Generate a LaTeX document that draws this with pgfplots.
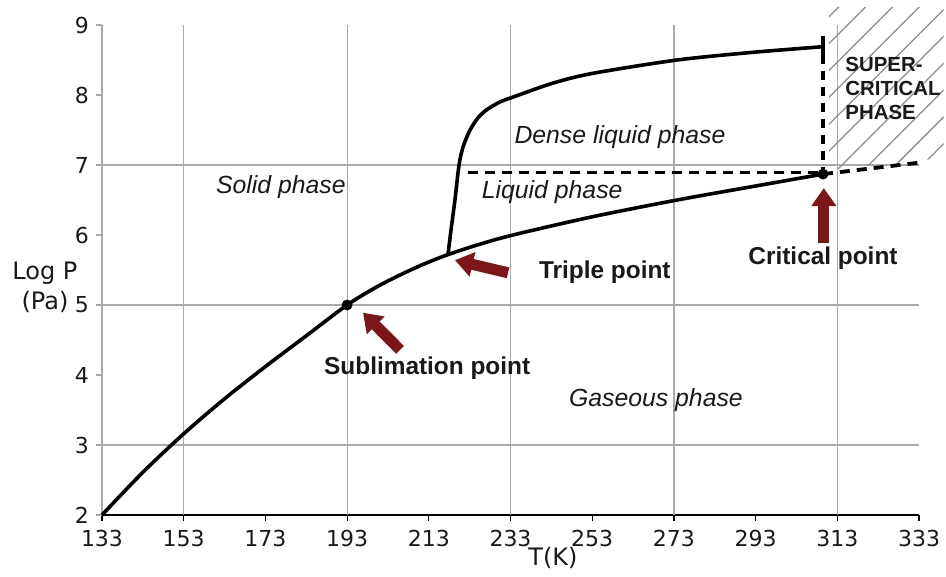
\documentclass[border=0pt]{standalone}
\usepackage{fontspec}
\setmainfont{DejaVu Sans}
\newfontfamily\arial{Liberation Sans}
\usepackage{pgfplots}
\pgfplotsset{compat=1.18}
\usetikzlibrary{arrows.meta,patterns.meta}
\definecolor{arrowred}{RGB}{125,22,25}
\definecolor{gridgray}{RGB}{170,170,170}
\definecolor{hatchgray}{RGB}{140,140,140}
\definecolor{txt}{RGB}{25,25,25}

\begin{document}
\begin{tikzpicture}
\begin{axis}[
    name=ax,
    scale only axis,
    width=408.5pt, height=245pt,
    xmin=133, xmax=333, ymin=2, ymax=9,
    axis x line*=bottom, axis y line*=left,
    x axis line style={black, line width=1.4pt},
    y axis line style={gridgray, line width=1pt},
    xtick={133,153,...,333}, ytick={2,...,9},
    extra x ticks={153,193,233,273,313}, extra x tick labels={},
    extra y ticks={3,5,7}, extra y tick labels={},
    extra tick style={grid=major},
    major grid style={gridgray, line width=0.6pt},
    tick align=outside, major tick length=3pt,
    x tick style={black, line width=0.6pt},
    y tick style={gridgray, line width=0.8pt},
    tick label style={font=\fontsize{11}{13}\selectfont, text=txt},
    xticklabel style={yshift=-1pt},
    /pgf/number format/assume math mode=true,
    clip=false,
]
    % supercritical region
    \addplot[draw=none, pattern={Lines[angle=45,distance=9.5pt,line width=0.65pt]}, pattern color=hatchgray]
        coordinates {(311,6.93) (339,7.1) (339,9.26) (311,9.26)} -- cycle;

    % sublimation + vaporization curve
    \addplot[black, line width=1.8pt, smooth] coordinates {
        (133,2) (143,2.61) (153,3.16) (163,3.66) (173,4.12) (183,4.56) (193,5.0)
        (200,5.25) (206,5.43) (212,5.59) (217.7,5.72) (225,5.86) (233.6,6.0)
        (253,6.26) (273.8,6.5) (293,6.7) (309.5,6.87)
    };
    % melting curve
    \addplot[black, line width=1.8pt, smooth] coordinates {
        (217.7,5.72) (218.5,6.1) (219.4,6.5) (220.4,7.0) (221.4,7.26) (223.1,7.5)
        (225,7.67) (227.2,7.79) (230.4,7.9) (233.6,7.97) (243.4,8.17) (253.2,8.31)
        (273.8,8.5) (292.4,8.61) (309.5,8.69)
    };
    \addplot[black, line width=1.6pt] coordinates {(309.5,8.57) (309.5,8.84)};

    % dashed boundaries
    \addplot[black, line width=1.4pt, dash pattern=on 5pt off 3.5pt] coordinates {(222.6,6.89) (309.5,6.89)};
    \addplot[black, line width=1.6pt, dash pattern=on 4.5pt off 3.5pt] coordinates {(309.5,8.57) (309.5,6.89)};
    \addplot[black, line width=1.9pt, dash pattern=on 5pt off 3.5pt] coordinates {(309.5,6.87) (334,7.04)};

    % points
    \addplot[only marks, mark=*, mark size=2.5pt, black] coordinates {(193,5.0) (309.5,6.87)};

    % arrows
    \addplot[arrowred, line width=5.5pt, -{Triangle[length=9pt,width=12pt]}] coordinates {(205.95,4.36) (196.9,4.89)};
    \addplot[arrowred, line width=5.5pt, -{Triangle[length=9pt,width=12pt]}] coordinates {(232.4,5.46) (219.4,5.64)};
    \addplot[arrowred, line width=5.5pt, -{Triangle[length=9pt,width=12pt]}] coordinates {(309.7,5.89) (309.7,6.67)};

    % labels
    \node[text=txt, font=\arial\itshape\fontsize{12.4}{14}\selectfont] at (axis cs:176.8,6.69) {Solid phase};
    \node[text=txt, font=\arial\itshape\fontsize{12.4}{14}\selectfont] at (axis cs:259.8,7.40) {Dense liquid phase};
    \node[text=txt, font=\arial\itshape\fontsize{12.4}{14}\selectfont] at (axis cs:243.2,6.61) {Liquid phase};
    \node[text=txt, font=\arial\itshape\fontsize{12.4}{14}\selectfont] at (axis cs:268.6,3.64) {Gaseous phase};
    \node[text=txt, font=\arial\bfseries\fontsize{12.2}{14}\selectfont] at (axis cs:256.1,5.47) {Triple point};
    \node[text=txt, font=\arial\bfseries\fontsize{12.2}{14}\selectfont] at (axis cs:309.5,5.67) {Critical point};
    \node[text=txt, font=\arial\bfseries\fontsize{12.2}{14}\selectfont] at (axis cs:212.6,4.10) {Sublimation point};
    \node[text=txt, anchor=west, align=left, inner sep=0pt, font=\arial\bfseries\fontsize{10.2}{12}\selectfont]
        at (axis cs:314.9,8.1) {SUPER-\\CRITICAL\\PHASE};

    % axis titles
    \node[text=txt, align=center, font=\fontsize{12}{15}\selectfont] at (axis description cs:-0.0698,0.465) {Log P\\(Pa)};
    \node[text=txt, font=\fontsize{12}{14}\selectfont] at (axis description cs:0.552,-0.0878) {T(K)};
\end{axis}
\pgfresetboundingbox
\path[use as bounding box] ([xshift=-51pt,yshift=-31pt]ax.south west) rectangle ([xshift=13.5pt,yshift=12.5pt]ax.north east);
\end{tikzpicture}
\end{document}
